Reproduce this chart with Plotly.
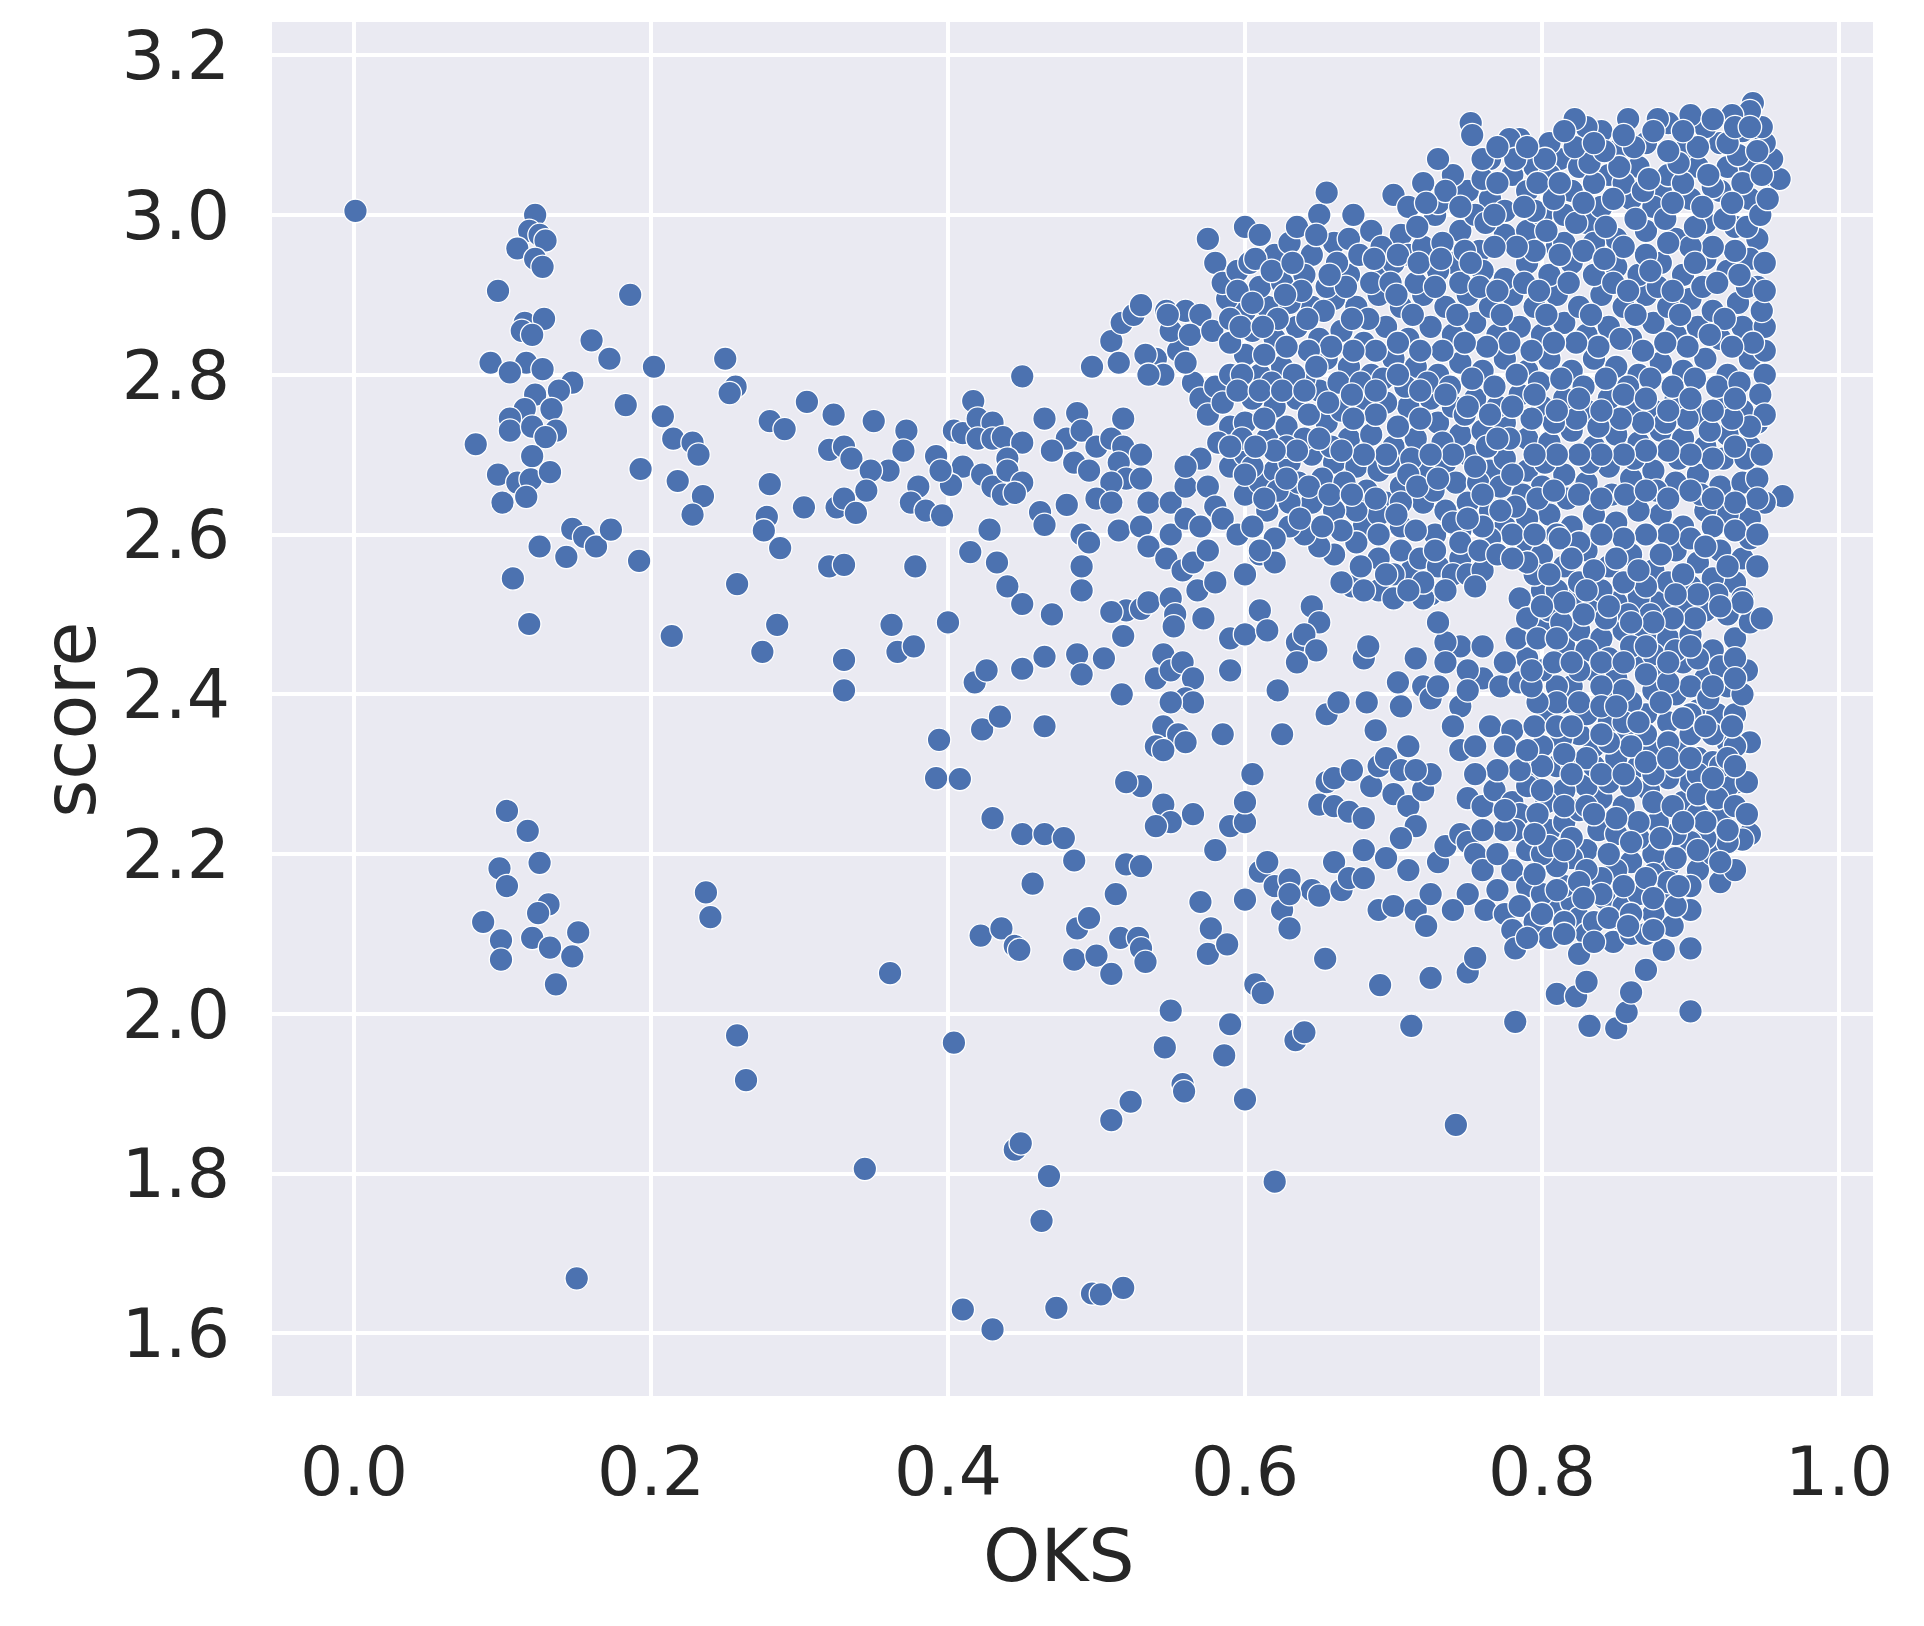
import plotly.graph_objects as go

x_ticks = [0.0, 0.2, 0.4, 0.6, 0.8, 1.0]
y_ticks = [1.6, 1.8, 2.0, 2.2, 2.4, 2.6, 2.8, 3.0, 3.2]

# (OKS, score) pairs, grouped by area
left_cluster = [
    (0.001,3.005),(0.122,3.0),(0.118,2.98),(0.125,2.975),(0.129,2.968),(0.11,2.958),(0.122,2.945),(0.127,2.935),
    (0.097,2.905),(0.186,2.9),(0.115,2.865),(0.128,2.87),(0.113,2.855),(0.12,2.85),(0.16,2.843),(0.092,2.815),
    (0.172,2.82),(0.116,2.815),(0.105,2.803),(0.127,2.807),(0.147,2.79),(0.138,2.78),(0.122,2.775),(0.183,2.762),
    (0.115,2.757),(0.133,2.757),(0.105,2.745),(0.105,2.73),(0.12,2.735),(0.136,2.73),(0.129,2.722),(0.082,2.713),
    (0.12,2.698),(0.097,2.675),(0.11,2.665),(0.119,2.669),(0.132,2.678),(0.116,2.647),(0.1,2.64),(0.125,2.585),
    (0.147,2.607),(0.155,2.597),(0.163,2.585),(0.173,2.606),(0.143,2.572),(0.107,2.545),(0.192,2.567),(0.118,2.488),
    (0.103,2.254),(0.117,2.229),(0.098,2.182),(0.125,2.189),(0.103,2.16),(0.131,2.137),(0.124,2.126),(0.087,2.115),
    (0.099,2.092),(0.12,2.095),(0.099,2.068),(0.132,2.083),(0.147,2.072),(0.151,2.102),(0.136,2.037),(0.15,1.669),
]

middle_upper = [
    (0.202,2.81),(0.208,2.748),(0.215,2.72),(0.228,2.715),(0.232,2.7),(0.193,2.682),(0.218,2.667),(0.235,2.648),
    (0.228,2.625),(0.25,2.82),(0.257,2.785),(0.253,2.777),(0.28,2.742),(0.29,2.732),(0.305,2.766),(0.323,2.75),
    (0.35,2.742),(0.32,2.706),(0.33,2.71),(0.335,2.695),(0.372,2.73),(0.37,2.705),(0.36,2.68),(0.348,2.68),
    (0.28,2.663),(0.38,2.66),(0.345,2.655),(0.375,2.64),(0.278,2.622),(0.303,2.634),(0.325,2.634),(0.33,2.645),
    (0.338,2.627),(0.385,2.63),(0.396,2.624),(0.276,2.605),(0.287,2.583),(0.258,2.538),(0.32,2.56),(0.33,2.562),
    (0.378,2.56),(0.214,2.473),(0.285,2.487),(0.362,2.487),(0.275,2.453),(0.33,2.443),(0.366,2.453),(0.377,2.46),
    (0.33,2.405),(0.4,2.49),(0.404,2.73),(0.41,2.727),(0.417,2.767),(0.42,2.745),(0.43,2.74),(0.42,2.72),
    (0.43,2.72),(0.437,2.722),(0.45,2.715),(0.44,2.695),(0.41,2.685),(0.402,2.662),(0.423,2.675),(0.43,2.66),
    (0.44,2.68),(0.45,2.665),(0.437,2.65),(0.445,2.652),(0.45,2.798),(0.392,2.698),(0.395,2.68),(0.465,2.745),
    (0.48,2.72),(0.487,2.752),(0.49,2.73),(0.47,2.705),(0.485,2.69),(0.495,2.68),(0.5,2.71),(0.51,2.72),
    (0.518,2.745),(0.518,2.71),(0.515,2.69),(0.52,2.67),(0.51,2.665),(0.5,2.645),(0.51,2.64),(0.48,2.637),
    (0.462,2.628),(0.465,2.612),(0.49,2.6),(0.495,2.59),(0.515,2.605),(0.53,2.7),(0.53,2.67),(0.535,2.64),
    (0.53,2.61),(0.535,2.585),(0.55,2.64),(0.56,2.66),(0.55,2.6),(0.56,2.62),(0.547,2.57),(0.558,2.555),
    (0.565,2.565),(0.52,2.505),(0.51,2.503),(0.53,2.507),(0.535,2.515),(0.518,2.473),(0.55,2.52),(0.553,2.5),
    (0.552,2.485),(0.568,2.53),(0.58,2.54),(0.59,2.47),(0.6,2.475),(0.61,2.505),(0.615,2.48),(0.59,2.43),
    (0.572,2.495),(0.49,2.53),(0.49,2.56),(0.47,2.5),(0.44,2.535),(0.45,2.513),(0.433,2.565),(0.428,2.606),
    (0.415,2.578),(0.497,2.81),(0.51,2.842),(0.515,2.815),(0.517,2.865),(0.525,2.875),(0.53,2.887),(0.54,2.82),
    (0.547,2.88),(0.56,2.88),(0.545,2.8),(0.555,2.83),(0.57,2.875),(0.565,2.79),(0.57,2.77),(0.58,2.785),
    (0.575,2.75),(0.59,2.8),(0.585,2.765),(0.59,2.735),(0.6,2.74),(0.533,2.825),(0.55,2.855),(0.563,2.85),
    (0.578,2.855),(0.56,2.815),(0.535,2.8),(0.548,2.875),(0.57,2.695),(0.56,2.685),(0.575,2.66),(0.59,2.685),
    (0.58,2.635),(0.57,2.61),(0.585,2.62),(0.595,2.6),(0.575,2.58),(0.6,2.55),(0.61,2.575),(0.62,2.565),
]

middle_lower = [
    (0.237,2.152),(0.24,2.121),(0.258,1.973),(0.264,1.917),(0.361,2.051),(0.344,1.806),(0.41,1.63),(0.43,1.605),
    (0.404,1.964),(0.445,1.83),(0.449,1.838),(0.468,1.797),(0.463,1.741),(0.473,1.632),(0.497,1.65),(0.503,1.649),
    (0.518,1.657),(0.51,1.867),(0.523,1.89),(0.392,2.295),(0.408,2.294),(0.394,2.343),(0.43,2.245),(0.45,2.225),
    (0.465,2.225),(0.478,2.22),(0.422,2.098),(0.436,2.107),(0.445,2.085),(0.448,2.08),(0.485,2.192),(0.457,2.163),
    (0.487,2.107),(0.485,2.068),(0.5,2.073),(0.495,2.12),(0.51,2.05),(0.516,2.095),(0.528,2.095),(0.53,2.082),
    (0.533,2.065),(0.513,2.15),(0.52,2.187),(0.53,2.185),(0.55,2.004),(0.546,1.958),(0.558,1.912),(0.559,1.903),
    (0.586,1.948),(0.59,1.987),(0.6,1.893),(0.62,1.79),(0.607,2.037),(0.612,2.026),(0.634,1.967),(0.64,1.977),
    (0.654,2.069),(0.691,2.036),(0.712,1.985),(0.742,1.861),(0.725,2.045),(0.75,2.052),(0.755,2.07),(0.782,1.99),
    (0.81,2.025),(0.823,2.022),(0.83,2.04),(0.832,1.985),(0.85,1.982),(0.857,2.002),(0.86,2.027),(0.87,2.055),
    (0.882,2.08),(0.9,2.082),(0.9,2.003),(0.418,2.415),(0.426,2.43),(0.423,2.356),(0.435,2.372),(0.465,2.36),
    (0.45,2.432),(0.465,2.447),(0.487,2.45),(0.49,2.425),(0.505,2.445),(0.517,2.4),(0.54,2.42),(0.545,2.45),
    (0.55,2.43),(0.558,2.44),(0.565,2.42),(0.56,2.395),(0.565,2.39),(0.55,2.39),(0.545,2.36),(0.555,2.35),
    (0.56,2.34),(0.54,2.335),(0.545,2.33),(0.53,2.285),(0.52,2.29),(0.545,2.262),(0.55,2.24),(0.54,2.235),
    (0.565,2.25),(0.57,2.14),(0.58,2.205),(0.59,2.235),(0.6,2.24),(0.6,2.265),(0.605,2.3),(0.585,2.35),
    (0.622,2.405),(0.625,2.35),(0.577,2.107),(0.575,2.075),(0.588,2.087),(0.6,2.143),(0.61,2.178),(0.615,2.19),
    (0.62,2.16),(0.625,2.13),(0.63,2.107),(0.63,2.168),(0.645,2.155),(0.65,2.148),(0.63,2.15),(0.655,2.29),
    (0.66,2.295),(0.65,2.262),(0.66,2.26),(0.67,2.253),(0.68,2.245),(0.66,2.19),(0.665,2.155),(0.67,2.17),
    (0.68,2.17),(0.68,2.205),(0.69,2.13),(0.635,2.465),(0.645,2.51),(0.65,2.49),(0.64,2.475),(0.648,2.455),
    (0.635,2.44),(0.655,2.375),(0.663,2.39),(0.672,2.305),(0.685,2.285),(0.69,2.31),(0.695,2.32),(0.705,2.305),
    (0.682,2.39),(0.688,2.355),(0.705,2.385),(0.7,2.275),(0.71,2.26),(0.715,2.235),(0.705,2.22),(0.695,2.195),
    (0.71,2.18),(0.7,2.135),(0.715,2.13),(0.722,2.11),(0.725,2.15),(0.73,2.19),(0.735,2.21),(0.72,2.28),
    (0.725,2.3),(0.715,2.305),(0.71,2.335),(0.703,2.415),(0.715,2.445),(0.72,2.41),(0.725,2.395),(0.68,2.445),
    (0.683,2.46),(0.69,2.53),(0.672,2.535),(0.68,2.53),(0.7,2.52),(0.745,2.385),(0.74,2.36),(0.745,2.33),
    (0.755,2.335),(0.765,2.36),(0.78,2.355),(0.775,2.335),(0.75,2.27),(0.76,2.26),(0.768,2.28),(0.745,2.225),
    (0.75,2.215),(0.755,2.2),(0.76,2.18),(0.75,2.15),(0.762,2.13),(0.77,2.155),(0.775,2.125),(0.74,2.13),
]

dense_low = [
    (0.78,2.265),(0.785,2.25),(0.795,2.305),(0.79,2.285),(0.782,2.23),(0.79,2.205),(0.78,2.18),(0.79,2.16),
    (0.785,2.135),(0.795,2.115),(0.78,2.105),(0.782,2.082),(0.805,2.095),(0.81,2.135),(0.8,2.15),(0.82,2.14),
    (0.815,2.16),(0.825,2.12),(0.83,2.1),(0.825,2.075),(0.835,2.115),(0.842,2.145),(0.85,2.12),(0.848,2.09),
    (0.86,2.1),(0.855,2.135),(0.865,2.15),(0.875,2.125),(0.88,2.155),(0.87,2.1),(0.888,2.11),(0.9,2.13),
    (0.895,2.16),(0.885,2.185),(0.905,2.18),(0.92,2.165),(0.915,2.2),(0.93,2.18),(0.94,2.225),(0.935,2.218),
    (0.925,2.215),(0.91,2.22),(0.9,2.215),(0.89,2.225),(0.875,2.2),(0.86,2.19),(0.85,2.18),(0.84,2.17),
    (0.83,2.205),(0.82,2.195),(0.81,2.185),(0.8,2.2),(0.805,2.23),(0.815,2.24),(0.825,2.255),(0.838,2.23),
    (0.85,2.225),(0.865,2.22),(0.878,2.24),(0.895,2.265),(0.905,2.25),(0.92,2.245),(0.932,2.29),(0.925,2.285),
    (0.938,2.29),(0.91,2.28),(0.9,2.29),(0.885,2.295),(0.872,2.28),(0.855,2.26),(0.84,2.27),(0.83,2.285),
    (0.815,2.28),(0.803,2.265),(0.797,2.25),(0.81,2.31),(0.82,2.315),(0.835,2.31),(0.85,2.32),(0.865,2.31),
    (0.875,2.33),(0.89,2.335),(0.905,2.32),(0.915,2.315),(0.925,2.34),(0.94,2.34),(0.93,2.335),(0.9,2.35),
    (0.885,2.365),(0.87,2.375),(0.858,2.35),(0.845,2.365),(0.835,2.335),(0.825,2.35),(0.813,2.345),(0.8,2.335),
    (0.805,2.375),(0.815,2.39),(0.83,2.375),(0.845,2.395),(0.86,2.39),(0.875,2.405),(0.89,2.4),(0.905,2.38),
    (0.918,2.375),(0.93,2.375),(0.938,2.43),(0.925,2.41),(0.91,2.42),(0.895,2.44),(0.88,2.43),(0.865,2.445),
    (0.85,2.42),(0.835,2.43),(0.82,2.41),(0.81,2.41),(0.8,2.43),(0.79,2.445),(0.783,2.47),(0.8,2.48),
    (0.815,2.46),(0.825,2.48),(0.84,2.47),(0.855,2.48),(0.87,2.475),(0.885,2.47),(0.9,2.475),(0.915,2.455),
    (0.93,2.47),(0.94,2.49),(0.948,2.495),(0.925,2.5),(0.91,2.505),(0.895,2.51),(0.88,2.515),(0.865,2.52),
    (0.85,2.515),(0.835,2.51),(0.82,2.52),(0.805,2.505),(0.8,2.53),(0.785,2.52),(0.79,2.495),
    (0.76,2.42),(0.772,2.41),(0.785,2.415),(0.775,2.44),(0.745,2.46),(0.735,2.465),(0.73,2.49),(0.725,2.525),
    (0.72,2.52),(0.712,2.555),(0.705,2.58),(0.718,2.57),(0.73,2.56),(0.745,2.57),(0.74,2.55),(0.75,2.55),
    (0.76,2.555),(0.728,2.6),(0.695,2.64),(0.705,2.61),(0.68,2.61),(0.675,2.59),(0.66,2.575),(0.665,2.54),
    (0.65,2.585),(0.64,2.6),(0.63,2.61),(0.62,2.595),(0.61,2.58),(0.76,2.46),(0.75,2.43),
]

dense_mid = [
    (0.6,2.65),(0.61,2.665),(0.62,2.68),(0.63,2.69),(0.645,2.7),(0.66,2.69),(0.675,2.685),(0.69,2.68),
    (0.705,2.66),(0.72,2.68),(0.735,2.69),(0.75,2.7),(0.765,2.68),(0.775,2.695),(0.79,2.68),(0.8,2.66),
    (0.815,2.675),(0.83,2.665),(0.845,2.685),(0.86,2.67),(0.875,2.68),(0.89,2.665),(0.905,2.675),(0.92,2.66),
    (0.935,2.665),(0.945,2.67),(0.962,2.648),(0.95,2.64),(0.94,2.62),(0.925,2.625),(0.91,2.63),(0.895,2.61),
    (0.88,2.625),(0.865,2.63),(0.85,2.615),(0.835,2.625),(0.82,2.61),(0.805,2.625),(0.79,2.62),(0.775,2.61),
    (0.765,2.63),(0.75,2.64),(0.735,2.63),(0.72,2.64),(0.705,2.64),(0.69,2.625),(0.675,2.63),(0.66,2.63),
    (0.645,2.64),(0.63,2.64),(0.615,2.63),(0.605,2.61),(0.79,2.58),(0.8,2.575),(0.815,2.56),(0.83,2.58),
    (0.845,2.56),(0.86,2.575),(0.875,2.555),(0.89,2.58),(0.905,2.565),(0.92,2.58),(0.935,2.57),(0.945,2.56),
    (0.93,2.54),(0.915,2.545),(0.9,2.535),(0.885,2.54),(0.87,2.535),(0.855,2.54),(0.84,2.53),(0.825,2.54),
    (0.81,2.53),(0.795,2.55),(0.78,2.6),(0.765,2.595),(0.6,2.7),(0.615,2.72),(0.628,2.735),(0.64,2.72),
    (0.655,2.74),(0.67,2.72),(0.685,2.725),(0.7,2.71),(0.715,2.72),(0.73,2.74),(0.745,2.725),(0.76,2.73),
    (0.775,2.74),(0.79,2.72),(0.805,2.715),(0.82,2.73),(0.835,2.71),(0.85,2.725),(0.865,2.715),(0.88,2.73),
    (0.895,2.72),(0.91,2.71),(0.925,2.725),(0.94,2.71),(0.945,2.74),(0.935,2.755),(0.92,2.76),(0.905,2.75),
    (0.89,2.77),(0.875,2.755),(0.86,2.76),(0.845,2.77),(0.83,2.755),(0.815,2.77),(0.8,2.76),(0.785,2.775),
    (0.77,2.76),(0.755,2.77),(0.74,2.76),(0.725,2.77),(0.71,2.76),(0.695,2.765),(0.68,2.77),(0.665,2.755),
    (0.65,2.78),(0.635,2.77),(0.62,2.76),(0.605,2.77),(0.61,2.8),(0.625,2.81),(0.64,2.795),(0.655,2.82),
    (0.67,2.81),(0.685,2.8),(0.7,2.82),(0.715,2.81),(0.73,2.8),(0.745,2.815),(0.76,2.805),(0.775,2.82),
    (0.79,2.805),(0.805,2.82),(0.82,2.805),(0.835,2.82),(0.85,2.81),(0.865,2.8),(0.88,2.815),(0.895,2.805),
    (0.91,2.82),(0.925,2.8),(0.94,2.82),(0.95,2.8),(0.95,2.83),(0.6,2.825),(0.59,2.84),(0.605,2.855),
    (0.62,2.845),(0.635,2.86),(0.65,2.845),(0.665,2.855),(0.68,2.84),(0.695,2.86),(0.71,2.845),(0.725,2.86),
    (0.74,2.85),(0.755,2.865),(0.77,2.85),(0.785,2.86),(0.8,2.85),(0.815,2.865),(0.83,2.85),(0.845,2.86),
    (0.86,2.845),(0.875,2.865),(0.89,2.85),(0.905,2.86),(0.92,2.845),(0.935,2.86),(0.95,2.86),(0.948,2.88),
    (0.932,2.89),(0.915,2.88),(0.9,2.895),(0.885,2.885),(0.87,2.9),(0.855,2.885),(0.84,2.9),(0.825,2.885),
    (0.81,2.9),(0.795,2.885),(0.78,2.9),(0.765,2.885),(0.75,2.9),(0.735,2.885),(0.72,2.9),(0.705,2.885),
    (0.69,2.9),(0.675,2.885),(0.66,2.895),(0.645,2.885),(0.63,2.89),(0.615,2.885),(0.6,2.88),(0.588,2.895),
]

dense_high = [
    (0.575,2.97),(0.58,2.94),(0.585,2.915),(0.595,2.93),(0.6,2.985),(0.603,2.94),(0.61,2.975),(0.62,2.95),
    (0.63,2.965),(0.635,2.985),(0.645,2.95),(0.65,3.0),(0.655,3.028),(0.66,2.965),(0.67,2.97),(0.673,3.0),
    (0.685,2.98),(0.695,2.93),(0.705,2.975),(0.7,3.025),(0.71,2.95),(0.72,2.96),(0.728,3.0),(0.73,3.015),
    (0.74,2.94),(0.745,2.98),(0.75,3.03),(0.758,2.955),(0.765,3.02),(0.775,2.975),(0.78,3.05),(0.79,2.98),
    (0.8,3.0),(0.81,2.96),(0.82,3.03),(0.83,2.99),(0.84,3.01),(0.85,2.97),(0.86,3.02),(0.87,2.98),
    (0.88,3.03),(0.89,2.97),(0.9,3.02),(0.91,2.99),(0.92,3.03),(0.93,2.985),(0.94,3.02),(0.945,2.97),
    (0.953,3.05),(0.96,3.045),(0.955,3.07),(0.95,3.09),(0.948,3.11),(0.942,3.14),(0.94,3.13),(0.935,3.105),
    (0.928,3.125),(0.92,3.09),(0.91,3.11),(0.9,3.125),(0.895,3.08),(0.885,3.115),(0.878,3.12),(0.87,3.09),
    (0.858,3.12),(0.85,3.08),(0.84,3.105),(0.83,3.11),(0.822,3.12),(0.812,3.07),(0.805,3.09),(0.795,3.06),
    (0.785,3.095),(0.778,3.095),(0.765,3.07),(0.752,3.115),(0.753,3.1),(0.74,3.05),(0.73,3.07),(0.72,3.04),
    (0.71,3.01),(0.735,3.03),(0.76,3.045),(0.79,3.03),(0.805,3.05),(0.825,3.06),(0.845,3.05),(0.865,3.06),
    (0.885,3.05),(0.905,3.06),(0.925,3.06),(0.94,3.06),(0.935,3.04),(0.915,3.035),(0.895,3.04),(0.875,3.01),
    (0.855,3.04),(0.835,3.04),(0.815,3.0),(0.795,3.005),(0.775,3.005),(0.755,3.0),(0.61,2.91),(0.625,2.915),
    (0.64,2.925),(0.655,2.91),(0.67,2.925),(0.685,2.915),(0.7,2.94),(0.715,2.915),(0.73,2.93),(0.745,2.915),
    (0.76,2.93),(0.775,2.92),(0.79,2.94),(0.805,2.925),(0.82,2.94),(0.835,2.925),(0.85,2.935),(0.865,2.925),
    (0.88,2.94),(0.895,2.925),(0.91,2.945),(0.925,2.93),(0.94,2.945),(0.95,2.94),(0.945,2.91),(0.93,2.955),
    (0.915,2.96),(0.9,2.96),(0.885,2.965),(0.87,2.95),(0.855,2.96),(0.835,2.965),(0.815,2.965),(0.795,2.955),
]

# second pass over the solid part, between the marks above
solid_upper = [
    (0.607,2.945),(0.618,2.93),(0.632,2.94),(0.648,2.975),(0.662,2.94),(0.677,2.95),(0.692,2.96),(0.703,2.95),
    (0.716,2.985),(0.733,2.965),(0.748,2.955),(0.762,2.99),(0.783,2.96),(0.803,2.98),(0.823,2.99),(0.843,2.985),
    (0.863,2.995),(0.883,2.995),(0.903,2.985),(0.923,2.995),(0.938,2.985),(0.947,3.0),(0.952,3.02),(0.928,3.015),
    (0.908,3.01),(0.888,3.015),(0.868,3.03),(0.848,3.02),(0.828,3.015),(0.808,3.02),(0.788,3.01),(0.768,3.0),
    (0.745,3.01),(0.722,3.015),(0.77,3.04),(0.797,3.04),(0.812,3.04),(0.832,3.065),(0.852,3.06),(0.872,3.045),
    (0.892,3.065),(0.912,3.05),(0.932,3.075),(0.945,3.08),(0.948,3.05),(0.925,3.09),(0.905,3.085),(0.885,3.08),
    (0.862,3.085),(0.842,3.08),(0.822,3.085),(0.802,3.07),(0.782,3.07),(0.76,3.07),(0.77,3.085),(0.79,3.085),
    (0.815,3.105),(0.835,3.09),(0.855,3.1),(0.875,3.105),(0.895,3.105),(0.915,3.12),(0.93,3.11),(0.94,3.11),
    (0.595,2.905),(0.605,2.89),(0.622,2.87),(0.638,2.905),(0.653,2.88),(0.668,2.91),(0.683,2.87),(0.698,2.915),
    (0.713,2.875),(0.728,2.91),(0.743,2.875),(0.758,2.91),(0.773,2.875),(0.788,2.915),(0.803,2.875),(0.818,2.915),
    (0.833,2.875),(0.848,2.915),(0.863,2.875),(0.878,2.91),(0.893,2.875),(0.908,2.91),(0.923,2.87),(0.938,2.91),
    (0.95,2.905),(0.942,2.84),(0.928,2.835),(0.913,2.85),(0.898,2.835),(0.883,2.84),(0.868,2.83),(0.853,2.845),
    (0.838,2.835),(0.823,2.84),(0.808,2.84),(0.793,2.83),(0.778,2.84),(0.763,2.835),(0.748,2.84),(0.733,2.83),
    (0.718,2.83),(0.703,2.84),(0.688,2.83),(0.673,2.83),(0.658,2.835),(0.643,2.83),(0.628,2.835),(0.613,2.825),
    (0.598,2.8),(0.618,2.79),(0.633,2.8),(0.648,2.81),(0.663,2.79),(0.678,2.79),(0.693,2.795),(0.708,2.785),
    (0.723,2.79),(0.738,2.785),(0.753,2.795),(0.768,2.785),(0.783,2.8),(0.798,2.79),(0.813,2.795),(0.828,2.785),
    (0.843,2.795),(0.858,2.785),(0.873,2.795),(0.888,2.785),(0.903,2.795),(0.918,2.785),(0.933,2.79),(0.947,2.775),
    (0.95,2.75),(0.94,2.735),(0.928,2.745),(0.913,2.73),(0.898,2.745),(0.883,2.74),(0.868,2.74),(0.853,2.745),
    (0.838,2.735),(0.823,2.745),(0.808,2.74),(0.793,2.745),(0.778,2.72),(0.763,2.71),(0.748,2.75),(0.733,2.715),
    (0.718,2.745),(0.703,2.735),(0.688,2.75),(0.673,2.745),(0.658,2.71),(0.643,2.75),(0.628,2.71),(0.613,2.745),
    (0.598,2.72),(0.582,2.715),(0.605,2.685),(0.622,2.655),(0.636,2.665),(0.652,2.67),(0.667,2.665),(0.682,2.655),
    (0.697,2.69),(0.712,2.695),(0.727,2.655),(0.742,2.665),(0.757,2.665),(0.772,2.66),(0.787,2.65),(0.802,2.69),
    (0.817,2.645),(0.832,2.69),(0.847,2.65),(0.862,2.695),(0.877,2.655),(0.892,2.695),(0.907,2.65),(0.922,2.695),
    (0.937,2.695),(0.948,2.7),(0.945,2.645),(0.93,2.64),(0.915,2.61),(0.9,2.595),(0.885,2.6),(0.87,2.6),
    (0.855,2.595),(0.84,2.6),(0.825,2.59),(0.81,2.6),(0.795,2.6),(0.782,2.635),(0.797,2.645),(0.812,2.595),
    (0.76,2.61),(0.745,2.605),(0.74,2.615),(0.715,2.605),(0.69,2.6),(0.665,2.605),(0.652,2.61),(0.637,2.62),
]

solid_lower = [
    (0.79,2.565),(0.805,2.55),(0.82,2.57),(0.835,2.555),(0.85,2.57),(0.865,2.555),(0.88,2.575),(0.895,2.55),
    (0.91,2.585),(0.925,2.56),(0.94,2.595),(0.935,2.52),(0.918,2.525),(0.903,2.495),(0.888,2.495),(0.873,2.5),
    (0.858,2.5),(0.843,2.495),(0.828,2.5),(0.813,2.49),(0.797,2.47),(0.81,2.47),(0.83,2.455),(0.845,2.445),
    (0.86,2.46),(0.875,2.45),(0.89,2.455),(0.905,2.445),(0.92,2.435),(0.93,2.445),(0.9,2.41),(0.885,2.415),
    (0.87,2.425),(0.855,2.405),(0.84,2.41),(0.825,2.43),(0.81,2.39),(0.797,2.39),(0.795,2.36),(0.81,2.36),
    (0.825,2.39),(0.84,2.385),(0.855,2.365),(0.87,2.35),(0.885,2.34),(0.9,2.375),(0.915,2.35),(0.928,2.36),
    (0.912,2.395),(0.935,2.4),(0.92,2.31),(0.905,2.3),(0.89,2.31),(0.875,2.3),(0.86,2.335),(0.845,2.34),
    (0.83,2.32),(0.815,2.325),(0.8,2.31),(0.8,2.28),(0.815,2.26),(0.83,2.26),(0.845,2.29),(0.86,2.285),
    (0.875,2.265),(0.888,2.26),(0.905,2.275),(0.918,2.27),(0.93,2.26),(0.938,2.25),(0.925,2.23),(0.91,2.24),
    (0.895,2.24),(0.88,2.22),(0.865,2.24),(0.85,2.245),(0.835,2.25),(0.82,2.22),(0.805,2.21),(0.795,2.225),
    (0.815,2.205),(0.83,2.18),(0.845,2.2),(0.86,2.215),(0.875,2.175),(0.89,2.195),(0.905,2.205),(0.92,2.19),
    (0.9,2.16),(0.885,2.165),(0.87,2.17),(0.855,2.16),(0.84,2.15),(0.825,2.165),(0.81,2.155),(0.795,2.175),
    (0.8,2.125),(0.815,2.115),(0.828,2.145),(0.845,2.12),(0.86,2.125),(0.875,2.145),(0.89,2.135),(0.892,2.16),
    (0.835,2.09),(0.858,2.11),(0.815,2.1),(0.79,2.095),(0.875,2.105),(0.77,2.2),(0.775,2.23),(0.775,2.255),
    (0.76,2.23),(0.785,2.305),(0.77,2.305),(0.755,2.3),(0.79,2.33),(0.793,2.41),(0.808,2.44),(0.793,2.43),
    (0.73,2.41),(0.735,2.44),(0.75,2.405),(0.7,2.55),(0.69,2.57),(0.678,2.56),(0.695,2.55),(0.728,2.58),
    (0.745,2.59),(0.758,2.58),(0.77,2.575),(0.78,2.57),(0.755,2.535),(0.735,2.53),(0.72,2.54),(0.71,2.53),
]

# third pass, remaining gaps on the upper left of the solid part
solid_fill = [
    (0.59,2.87),(0.597,2.86),(0.612,2.86),(0.627,2.9),(0.642,2.87),(0.657,2.925),(0.672,2.87),(0.687,2.945),
    (0.702,2.9),(0.717,2.94),(0.732,2.945),(0.752,2.94),(0.768,2.96),(0.77,2.905),(0.798,2.905),(0.812,2.95),
    (0.828,2.955),(0.842,2.945),(0.858,2.905),(0.873,2.93),(0.888,2.905),(0.903,2.94),(0.918,2.915),(0.933,2.925),
    (0.595,2.78),(0.61,2.78),(0.625,2.78),(0.64,2.78),(0.656,2.765),(0.672,2.775),(0.688,2.78),(0.703,2.8),
    (0.718,2.78),(0.735,2.775),(0.75,2.76),(0.765,2.75),(0.78,2.76),(0.795,2.775),(0.81,2.755),(0.825,2.77),
    (0.84,2.755),(0.855,2.775),(0.87,2.77),(0.885,2.755),(0.9,2.77),(0.915,2.755),(0.93,2.77),(0.93,2.71),
    (0.915,2.695),(0.9,2.7),(0.885,2.705),(0.87,2.705),(0.855,2.7),(0.84,2.7),(0.825,2.7),(0.81,2.7),
    (0.795,2.7),(0.78,2.675),(0.77,2.72),(0.755,2.685),(0.74,2.7),(0.725,2.7),(0.71,2.675),(0.695,2.7),
    (0.68,2.7),(0.665,2.705),(0.65,2.72),(0.635,2.705),(0.62,2.705),(0.607,2.71),(0.59,2.71),(0.6,2.675),
    (0.613,2.645),(0.628,2.67),(0.643,2.66),(0.657,2.65),(0.672,2.65),(0.688,2.645),(0.702,2.625),(0.716,2.66),
    (0.73,2.67),(0.75,2.62),(0.76,2.65),(0.772,2.63),(0.808,2.655),(0.825,2.65),(0.84,2.645),(0.856,2.65),
    (0.87,2.655),(0.885,2.645),(0.9,2.655),(0.915,2.645),(0.93,2.605),(0.945,2.6),(0.935,2.515),(0.92,2.51),
    (0.905,2.525),(0.89,2.525),(0.875,2.49),(0.86,2.49),(0.845,2.51),(0.83,2.53),(0.815,2.515),(0.8,2.51),
    (0.82,2.44),(0.84,2.44),(0.855,2.44),(0.87,2.46),(0.885,2.44),(0.9,2.46),(0.915,2.41),(0.93,2.42),
    (0.82,2.36),(0.84,2.35),(0.85,2.385),(0.865,2.365),(0.88,2.39),(0.895,2.37),(0.91,2.36),(0.925,2.32),
    (0.82,2.3),(0.84,2.3),(0.855,2.3),(0.87,2.315),(0.885,2.32),(0.9,2.32),(0.915,2.295),(0.93,2.31),
]

points = left_cluster + middle_upper + middle_lower + dense_low + dense_mid + dense_high + solid_upper + solid_lower + solid_fill
oks = [p[0] for p in points]
score = [p[1] for p in points]

fig = go.Figure(
    go.Scatter(
        x=oks,
        y=score,
        mode="markers",
        marker=dict(color="#4C72B0", size=23.5, line=dict(color="white", width=1.3)),
    )
)
fig.update_layout(
    width=1924,
    height=1626,
    margin=dict(l=272, r=51, t=22, b=230),
    paper_bgcolor="white",
    plot_bgcolor="#EAEAF2",
    font=dict(family="DejaVu Sans", color="#262626"),
    showlegend=False,
    annotations=[
        dict(text="OKS", xref="paper", yref="paper", x=0.4916, y=-0.116, xanchor="center", yanchor="middle",
             showarrow=False, font=dict(size=73)),
        dict(text="score", xref="paper", yref="paper", x=-0.1263, y=0.492, xanchor="center", yanchor="middle",
             textangle=-90, showarrow=False, font=dict(size=73)),
    ],
)
fig.update_xaxes(
    range=[-0.0552, 1.0229],
    tickvals=x_ticks,
    ticktext=[f"{v:.1f}" for v in x_ticks],
    tickfont=dict(size=68),
    ticklabelstandoff=30,
    gridcolor="white",
    gridwidth=4,
    zeroline=False,
    showline=False,
    ticks="",
)
fig.update_yaxes(
    range=[1.5217, 3.2415],
    tickvals=y_ticks,
    ticktext=[f"{v:.1f}" for v in y_ticks],
    tickfont=dict(size=68),
    ticklabelstandoff=41,
    gridcolor="white",
    gridwidth=4,
    zeroline=False,
    showline=False,
    ticks="",
)

fig.write_html("out.html", config={"displayModeBar": False}, post_script="document.body.style.margin='0';")
